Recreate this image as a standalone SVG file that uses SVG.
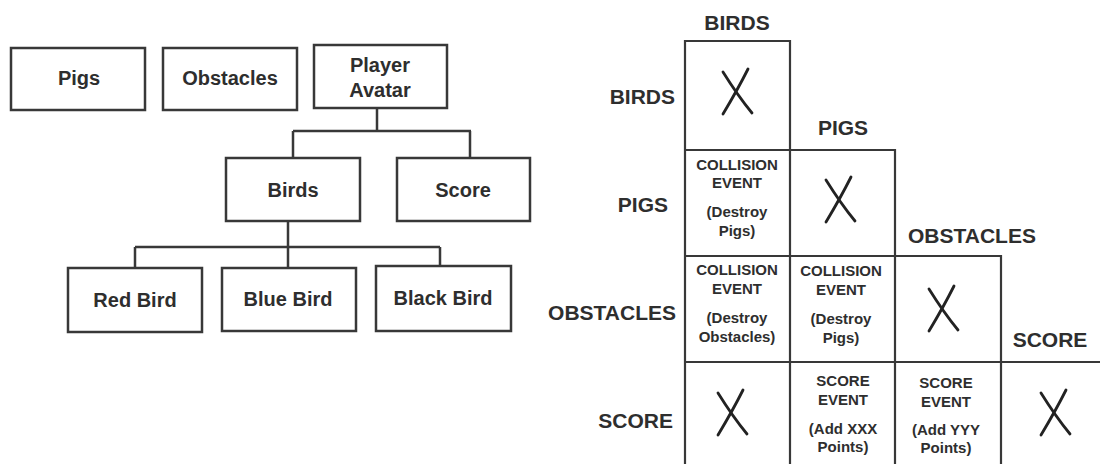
<svg xmlns="http://www.w3.org/2000/svg" width="1100" height="464" viewBox="0 0 1100 464">
<style>
  .box { fill: #ffffff; stroke: #383838; stroke-width: 2.5; }
  .conn { fill: none; stroke: #383838; stroke-width: 2.5; }
  .grid { fill: none; stroke: #383838; stroke-width: 2.2; }
  .lbl { font-family: "Liberation Sans", Arial, sans-serif; font-weight: bold; font-size: 20px; fill: #2e2e2e; text-anchor: middle; }
  .hdr { font-family: "Liberation Sans", Arial, sans-serif; font-weight: bold; font-size: 21px; fill: #2e2e2e; }
  .cell { font-family: "Liberation Sans", Arial, sans-serif; font-weight: bold; font-size: 15px; fill: #2e2e2e; text-anchor: middle; }
  .xm { fill: none; stroke: #222222; stroke-width: 2.8; stroke-linecap: round; }
</style>
<defs>
  <g id="xmark">
    <path class="xm" d="M 11 -23 Q 1 -3 -14 22"/>
    <path class="xm" d="M -14 -20 Q 1 4 15 21"/>
  </g>
</defs>
<rect width="1100" height="464" fill="#ffffff"/>

<!-- Tree connectors -->
<g id="connectors">
  <path class="conn" d="M 377 108 V 131 M 293 131 H 471 M 293 131 V 158 M 470 131 V 158"/>
  <path class="conn" d="M 288 221 V 247 M 135 247 H 440 M 135 247 V 268 M 288 247 V 268 M 440 247 V 266"/>
</g>

<!-- Tree nodes -->
<g id="node-pigs">
  <rect class="box" x="11" y="48" width="134" height="62"/>
  <text class="lbl" x="79" y="85">Pigs</text>
</g>
<g id="node-obstacles">
  <rect class="box" x="163" y="48" width="134" height="62"/>
  <text class="lbl" x="230" y="85">Obstacles</text>
</g>
<g id="node-player-avatar">
  <rect class="box" x="314" y="45" width="133" height="63"/>
  <text class="lbl" x="380" y="72">Player</text>
  <text class="lbl" x="380" y="97">Avatar</text>
</g>
<g id="node-birds">
  <rect class="box" x="226" y="158" width="134" height="63"/>
  <text class="lbl" x="293" y="197">Birds</text>
</g>
<g id="node-score">
  <rect class="box" x="397" y="158" width="133" height="63"/>
  <text class="lbl" x="463" y="197">Score</text>
</g>
<g id="node-red-bird">
  <rect class="box" x="68" y="268" width="134" height="64"/>
  <text class="lbl" x="135" y="307">Red Bird</text>
</g>
<g id="node-blue-bird">
  <rect class="box" x="222" y="268" width="134" height="63"/>
  <text class="lbl" x="288" y="306">Blue Bird</text>
</g>
<g id="node-black-bird">
  <rect class="box" x="376" y="266" width="135" height="65"/>
  <text class="lbl" x="443" y="305">Black Bird</text>
</g>

<!-- Interaction matrix -->
<g id="matrix">
  <path class="grid" d="M 685 464 V 41 H 790 V 464 M 685 150 H 895 V 464 M 685 256 H 1001 V 464 M 685 362 H 1100"/>

  <g id="headers">
    <text class="hdr" x="737" y="30" text-anchor="middle">BIRDS</text>
    <text class="hdr" x="843" y="135" text-anchor="middle">PIGS</text>
    <text class="hdr" x="972" y="243" text-anchor="middle">OBSTACLES</text>
    <text class="hdr" x="1050" y="347" text-anchor="middle">SCORE</text>
    <text class="hdr" x="675" y="104" text-anchor="end">BIRDS</text>
    <text class="hdr" x="668" y="212" text-anchor="end">PIGS</text>
    <text class="hdr" x="676" y="320" text-anchor="end">OBSTACLES</text>
    <text class="hdr" x="673" y="428" text-anchor="end">SCORE</text>
  </g>

  <g id="cells">
    <use href="#xmark" x="737" y="92"/>
    <use href="#xmark" x="840" y="200"/>
    <use href="#xmark" x="943" y="309"/>
    <use href="#xmark" x="732" y="413"/>
    <use href="#xmark" x="1055" y="413"/>

    <text class="cell" x="737" y="170">COLLISION</text>
    <text class="cell" x="737" y="188">EVENT</text>
    <text class="cell" x="737" y="217">(Destroy</text>
    <text class="cell" x="737" y="236">Pigs)</text>

    <text class="cell" x="737" y="275">COLLISION</text>
    <text class="cell" x="737" y="294">EVENT</text>
    <text class="cell" x="737" y="323">(Destroy</text>
    <text class="cell" x="737" y="342">Obstacles)</text>

    <text class="cell" x="841" y="276">COLLISION</text>
    <text class="cell" x="841" y="295">EVENT</text>
    <text class="cell" x="841" y="324">(Destroy</text>
    <text class="cell" x="841" y="343">Pigs)</text>

    <text class="cell" x="843" y="386">SCORE</text>
    <text class="cell" x="843" y="405">EVENT</text>
    <text class="cell" x="843" y="434">(Add XXX</text>
    <text class="cell" x="843" y="452">Points)</text>

    <text class="cell" x="946" y="388">SCORE</text>
    <text class="cell" x="946" y="407">EVENT</text>
    <text class="cell" x="946" y="435">(Add YYY</text>
    <text class="cell" x="946" y="453">Points)</text>
  </g>
</g>
</svg>
